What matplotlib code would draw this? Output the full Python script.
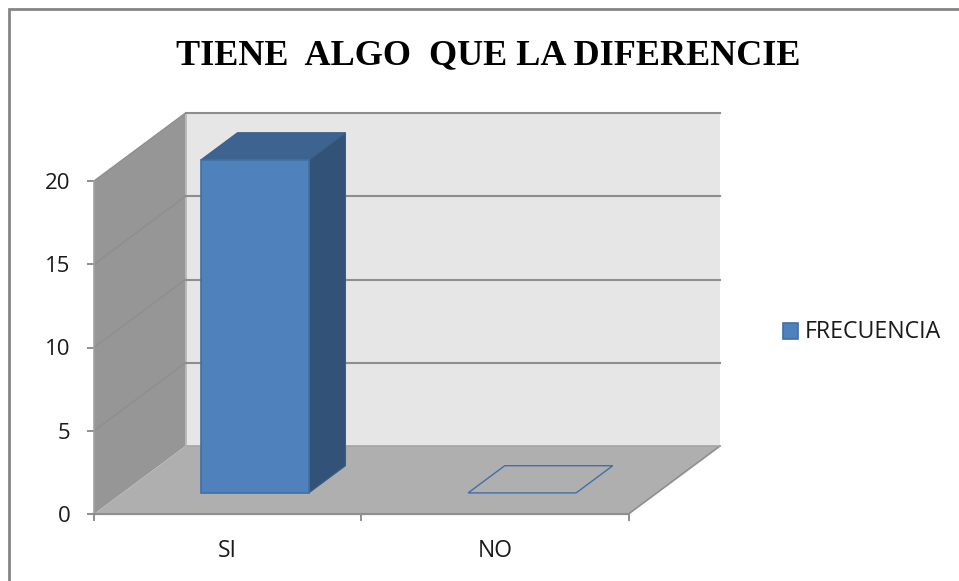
import matplotlib
matplotlib.use("Agg")
import matplotlib.pyplot as plt
from matplotlib.patches import Polygon, Rectangle

title = "TIENE  ALGO  QUE LA DIFERENCIE"
categories = ["SI", "NO"]
values = [20, 0]
series_name = "FRECUENCIA"
y_ticks = [0, 5, 10, 15, 20]

W, H = 959, 581
dpi = 100
fig = plt.figure(figsize=(W / dpi, H / dpi), dpi=dpi, facecolor="white")
# axes = front plane of the 3-D box
L, R, B, T = 94, 628.5, 514, 181
ax = fig.add_axes([L / W, 1 - B / H, (R - L) / W, (B - T) / H], facecolor="none")
ax.set_xlim(0, len(categories))
ax.set_ylim(0, 20)

# depth offsets in data units
ux = (R - L) / len(categories)
uy = (B - T) / 20
DX = 91.5 / ux
DY = 68 / uy
GRID = "#8e8e8e"
n = len(categories)
ymax = y_ticks[-1]


def poly(pts, fc, ec="none", lw=0, z=1):
    ax.add_patch(Polygon(pts, closed=True, facecolor=fc, edgecolor=ec, linewidth=lw, clip_on=False, zorder=z, joinstyle="miter"))


# walls
poly([(DX, DY), (n + DX, DY), (n + DX, ymax + DY), (DX, ymax + DY)], "#e6e6e6", z=1)
poly([(0, 0), (DX, DY), (DX, ymax + DY), (0, ymax)], "#969696", z=1)
poly([(0, 0), (n, 0), (n + DX, DY), (DX, DY)], "#afafaf", z=1)
# edges of the floor
ax.plot([n, n + DX], [0, DY], color=GRID, lw=1.2, clip_on=False, zorder=2)
ax.plot([DX, n + DX], [DY, DY], color="#a4a4a4", lw=1.2, clip_on=False, zorder=2)
ax.plot([DX, DX], [0 + DY, ymax + DY], color="#b4b4b4", lw=1.2, clip_on=False, zorder=2)

# gridlines on back and side walls
for v in y_ticks[1:]:
    ax.plot([DX, n + DX], [v + DY, v + DY], color=GRID, lw=1.5, clip_on=False, zorder=2)
    ax.plot([0, DX], [v, v + DY], color=GRID, lw=1.0, clip_on=False, zorder=2)

# 3-D bars
bar_w = 108 / ux
bar_d = 0.4
for i, v in enumerate(values):
    x0 = i + 78.5 / ux + 0.31 * DX
    x1 = x0 + bar_w
    y0 = 0.31 * DY
    ddx = bar_d * DX
    ddy = bar_d * DY
    if v > 0:
        poly([(x1, y0), (x1 + ddx, y0 + ddy), (x1 + ddx, y0 + v + ddy), (x1, y0 + v)], "#325278", "#3a5f8a", 0.8, 3)
        poly([(x0, y0 + v), (x1, y0 + v), (x1 + ddx, y0 + v + ddy), (x0 + ddx, y0 + v + ddy)], "#3d6391", "#3a5f8a", 0.8, 3)
        poly([(x0, y0), (x1, y0), (x1, y0 + v), (x0, y0 + v)], "#4f81bd", "#416fa6", 1.2, 4)
    else:
        poly([(x0, y0), (x1, y0), (x1 + ddx, y0 + ddy), (x0 + ddx, y0 + ddy)], "none", "#416fa6", 1.0, 3)

# axes
for s in ["top", "right"]:
    ax.spines[s].set_visible(False)
ax.spines["left"].set_color("#a2a2a2")
ax.spines["left"].set_linewidth(1.2)
ax.spines["bottom"].set_color(GRID)
ax.spines["bottom"].set_linewidth(1.6)
ax.spines["left"].set_zorder(5)
ax.spines["bottom"].set_zorder(5)
ax.set_yticks(y_ticks)
ax.set_xticks(range(n + 1))
ax.set_xticklabels([])
ax.set_xticks([i + 0.5 for i in range(n)], labels=categories, minor=True)
LABEL_FONT = "Open Sans"
ax.tick_params(axis="x", which="major", length=5, width=1.4, color=GRID)
ax.tick_params(axis="x", which="minor", length=0, pad=18, labelsize=16.5, labelcolor="#1a1a1a")
ax.tick_params(axis="y", length=5, width=1.4, color=GRID, pad=12, labelsize=16, labelcolor="#1a1a1a")
for lab in ax.get_xticklabels(minor=True) + ax.get_yticklabels():
    lab.set_fontfamily(LABEL_FONT)

# frame (right and bottom edges run off the picture)
fig.add_artist(Rectangle((8.7 / W, -0.05), 1.05, 1.05 - 9.3 / H, transform=fig.transFigure,
                         facecolor="none", edgecolor="#858585", linewidth=2.0))

fig.text(488 / W, 1 - 64 / H, title, family="Liberation Serif", weight="bold", fontsize=26,
         ha="center", va="baseline", color="black")

# legend
fig.patches.append(Rectangle((782.5 / W, 1 - 339 / H), 15.5 / W, 16.5 / H, transform=fig.transFigure,
                             facecolor="#4f81bd", edgecolor="#416fa6", linewidth=1.2))
fig.text(805 / W, 1 - 332 / H, series_name, family=LABEL_FONT, fontsize=16.7, ha="left", va="center", color="#1a1a1a")

fig.savefig("out.png", dpi=dpi)
